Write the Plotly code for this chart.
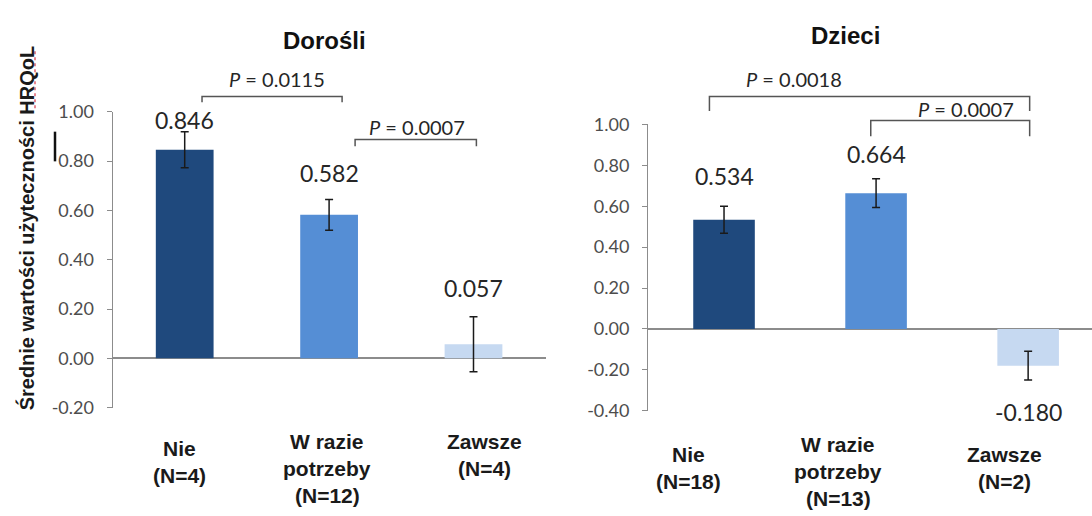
import plotly.graph_objects as go

# ---- data ----
categories = ["Nie", "W razie potrzeby", "Zawsze"]
category_lines = [["Nie"], ["W razie", "potrzeby"], ["Zawsze"]]

adults_n = [4, 12, 4]
adults_mean = [0.846, 0.582, 0.057]
adults_err = [0.073, 0.062, 0.112]

children_n = [18, 13, 2]
children_mean = [0.534, 0.664, -0.180]
children_err = [0.066, 0.070, 0.070]

adults_pvalues = ["0.0115", "0.0007"]
children_pvalues = ["0.0018", "0.0007"]

panel_titles = ["Dorośli", "Dzieci"]
y_title = "Średnie wartości użyteczności HRQoL"
y_ticks_adults = [-0.2, 0.0, 0.2, 0.4, 0.6, 0.8, 1.0]
y_ticks_children = [-0.4, -0.2, 0.0, 0.2, 0.4, 0.6, 0.8, 1.0]

# ---- style / geometry ----
W, H = 1092, 516
bar_colors = ["#1F497D", "#558ED5", "#C6D9F1"]
axis_grey = "#8c8c8c"
text_dark = "#262626"
num_font = "Lato, Carlito, sans-serif"
bold_font = "Arial, Liberation Sans, sans-serif"


def fx(px):
    return px / W


def fy(py):
    return 1 - py / H


panels = [
    dict(
        mean=adults_mean, err=adults_err, n=adults_n, pvals=adults_pvalues,
        title=panel_titles[0], title_xy=(324, 30),
        xdom=(112.5, 545.7), xrange=[-0.5, 2.5],
        ydom=(413.2, 104.3), yrange=[-0.2, 1.0], ticks=y_ticks_adults,
        bar_width=0.40,
        label_shift=[12, 27, 29],
        brackets=[(0.12, 1.09, 88.3, 6), (1.18, 2.02, 133.3, 7)],
        ptext=[(0.64, 70), (1.61, 120)],
        cat_top=[456, 449, 449], cat_shift=[-5, -2, 11],
    ),
    dict(
        mean=children_mean, err=children_err, n=children_n, pvals=children_pvalues,
        title=panel_titles[1], title_xy=(845, 25),
        xdom=(648, 1092), xrange=[-0.5, 2.42],
        ydom=(416.4, 117.5), yrange=[-0.4, 1.0], ticks=y_ticks_children,
        bar_width=0.405,
        label_shift=[30, 25, -32],
        brackets=[(-0.096, 2.01, 88.3, 15), (0.965, 2.01, 113.3, 16.5)],
        ptext=[(0.46, 70), (1.59, 101)],
        cat_top=[462, 452, 462], cat_shift=[-36, -38, -24],
    ),
]

fig = go.Figure()
annotations = []
shapes = []

for i, p in enumerate(panels):
    sfx = "" if i == 0 else "2"
    xa, ya = "x" + sfx, "y" + sfx

    fig.add_trace(go.Bar(
        x=categories, y=p["mean"], width=p["bar_width"],
        marker=dict(color=bar_colors, line=dict(width=0)),
        error_y=dict(type="data", array=p["err"], visible=True,
                     color="#1a1a1a", thickness=1.5, width=4),
        xaxis=xa, yaxis=ya, showlegend=False, hoverinfo="skip",
    ))

    x0px, x1px = p["xdom"]
    r0, r1 = p["xrange"]

    def cat_px(c, x0px=x0px, x1px=x1px, r0=r0, r1=r1):
        return x0px + (c - r0) / (r1 - r0) * (x1px - x0px)

    # value labels above / below the error bars
    for k, (v, e) in enumerate(zip(p["mean"], p["err"])):
        anchor = v + e if v >= 0 else v - e
        annotations.append(dict(
            x=categories[k], y=anchor, xref=xa, yref=ya,
            text=f"{v:.3f}", showarrow=False,
            xanchor="center", yanchor="middle", yshift=p["label_shift"][k],
            font=dict(family=num_font, size=23, color=text_dark),
        ))

    # category labels with group sizes
    for k, lines in enumerate(category_lines):
        all_lines = lines + [f"(N={p['n'][k]})"]
        for j, line in enumerate(all_lines):
            annotations.append(dict(
                x=categories[k], xref=xa, y=fy(p["cat_top"][k] + 28 * j), yref="paper",
                text=f"<b>{line}</b>", showarrow=False,
                xanchor="center", yanchor="middle", xshift=p["cat_shift"][k],
                font=dict(family=bold_font, size=21, color="#1a1a1a"),
            ))

    # significance brackets
    for (ca, cb, ytop, drop), (ct, yt), pv in zip(p["brackets"], p["ptext"], p["pvals"]):
        xa_px, xb_px = cat_px(ca), cat_px(cb)
        shapes.append(dict(
            type="path", xref="paper", yref="paper",
            path=(f"M {fx(xa_px)},{fy(ytop + drop)} L {fx(xa_px)},{fy(ytop)} "
                  f"L {fx(xb_px)},{fy(ytop)} L {fx(xb_px)},{fy(ytop + drop)}"),
            line=dict(color="#555555", width=1.5),
        ))
        annotations.append(dict(
            x=fx(cat_px(ct)), y=fy(yt), xref="paper", yref="paper",
            text=f"<i>P</i> = {pv}", showarrow=False,
            xanchor="center", yanchor="middle",
            font=dict(family=num_font, size=20, color=text_dark),
        ))

    # panel title
    tx, ty = p["title_xy"]
    annotations.append(dict(
        x=fx(tx), y=fy(ty), xref="paper", yref="paper",
        text=f"<b>{p['title']}</b>", showarrow=False,
        xanchor="center", yanchor="middle",
        font=dict(family=bold_font, size=24, color="#111111"),
    ))

    xaxis = dict(
        domain=[fx(x0px), fx(x1px)], range=p["xrange"], type="category",
        showline=False, showgrid=False, showticklabels=False, ticks="",
        zeroline=False, anchor=ya, fixedrange=True,
    )
    yb, yt_ = p["ydom"]
    yaxis = dict(
        domain=[fy(yb), fy(yt_)], range=p["yrange"], anchor=xa,
        tickvals=p["ticks"], ticktext=[f"{t:.2f}" for t in p["ticks"]],
        showline=True, linecolor=axis_grey, linewidth=1,
        ticks="outside", ticklen=5, tickcolor=axis_grey, tickwidth=1,
        ticklabelstandoff=9,
        showgrid=False, zeroline=True, zerolinecolor=axis_grey, zerolinewidth=1.5,
        tickfont=dict(family=num_font, size=18, color="#4d4d4d"),
        fixedrange=True,
    )
    fig.update_layout(**{"xaxis" + sfx: xaxis, "yaxis" + sfx: yaxis})

# shared y-axis title
annotations.append(dict(
    x=fx(26), y=fy(226), xref="paper", yref="paper",
    text=f"<b>{y_title}</b>", textangle=-90, showarrow=False,
    xanchor="center", yanchor="middle",
    font=dict(family=bold_font, size=20, color="#1a1a1a"),
))
# spell-check underline under the acronym and the text cursor beside the title
shapes.append(dict(type="line", xref="paper", yref="paper",
                   x0=fx(35), x1=fx(35), y0=fy(41), y1=fy(103),
                   line=dict(color="#e0606e", width=1.5, dash="dot")))
shapes.append(dict(type="line", xref="paper", yref="paper",
                   x0=fx(55), x1=fx(55), y0=fy(125), y1=fy(156),
                   line=dict(color="#111111", width=2.5)))

fig.update_layout(
    width=W, height=H,
    margin=dict(l=0, r=0, t=0, b=0),
    paper_bgcolor="white", plot_bgcolor="white",
    annotations=annotations, shapes=shapes,
    bargap=0.6,
)

fig.write_html("out.html")
